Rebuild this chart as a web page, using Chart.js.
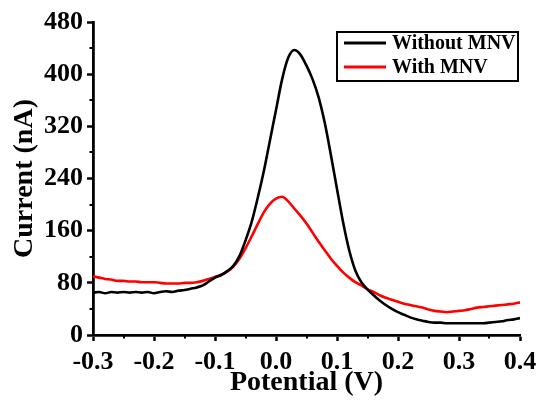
<!DOCTYPE html>
<html>
<head>
<meta charset="utf-8">
<script src="https://cdn.jsdelivr.net/npm/chart.js@4.4.1/dist/chart.umd.min.js"></script>
<style>
html,body{margin:0;padding:0;background:#fff;}
#wrap{width:536px;height:400px;}
</style>
</head>
<body>
<div id="wrap"><canvas id="c" width="536" height="400"></canvas></div>
<script>
const potential = [-0.30,-0.29,-0.28,-0.27,-0.26,-0.25,-0.24,-0.23,-0.22,-0.21,-0.20,-0.19,-0.18,-0.17,-0.16,-0.15,-0.14,-0.13,-0.12,-0.11,-0.10,-0.09,-0.08,-0.07,-0.06,-0.05,-0.04,-0.03,-0.02,-0.01,0.00,0.01,0.02,0.03,0.04,0.05,0.06,0.07,0.08,0.09,0.10,0.11,0.12,0.13,0.14,0.15,0.16,0.17,0.18,0.19,0.20,0.21,0.22,0.23,0.24,0.25,0.26,0.27,0.28,0.29,0.30,0.31,0.32,0.33,0.34,0.35,0.36,0.37,0.38,0.39,0.40];
const withoutMNV = [65,66,64,66,65,66,65,66,65,66,64,66,67,66,68,69,71,73,76,82,88,92,98,106,121,145,173,210,251,298,345,392,425,437,430,413,392,364,325,276,224,173,130,99,81,70,61,53,46,40,35,31,27,24,22,20,19,19,18,18,18,18,18,18,18,19,20,21,23,24,26];
const withMNV = [90,88,86,85,83,83,82,82,81,81,81,80,79,79,79,80,80,81,83,86,89,92,97,105,117,133,151,170,188,201,209,212,205,194,183,171,157,143,130,117,106,96,88,81,76,70,66,61,57,54,51,48,46,44,42,39,37,36,35,36,37,38,40,42,43,44,45,46,47,48,50];
const seriesNames = ['Without MNV','With MNV'];
const seriesColors = ['#000000','#ff0000'];
const xTitle = 'Potential (V)';
const yTitle = 'Current (nA)';

const FONT = "'Liberation Serif','Times New Roman',serif";

const minorTicks = {
  id:'minorTicks',
  afterDraw(chart){
    const ctx = chart.ctx;
    ctx.save();
    ctx.strokeStyle = '#000';
    ctx.lineWidth = 2;
    const xs = chart.scales.x, ys = chart.scales.y;
    const xt = xs.ticks.map(t=>t.value);
    for(let i=0;i<xt.length-1;i++){
      const p = Math.round(xs.getPixelForValue((xt[i]+xt[i+1])/2));
      ctx.beginPath(); ctx.moveTo(p, xs.top); ctx.lineTo(p, xs.top+3.5); ctx.stroke();
    }
    const yt = ys.ticks.map(t=>t.value);
    for(let i=0;i<yt.length-1;i++){
      const p = Math.round(ys.getPixelForValue((yt[i]+yt[i+1])/2));
      ctx.beginPath(); ctx.moveTo(ys.right, p); ctx.lineTo(ys.right-3.5, p); ctx.stroke();
    }
    ctx.restore();
  }
};

const boxLegend = {
  id:'boxLegend',
  afterDraw(chart){
    const ctx = chart.ctx;
    const ca = chart.chartArea;
    const x0 = ca.right - 183, y0 = ca.top + 10, w = 181, h = 49;
    ctx.save();
    ctx.strokeStyle = '#000';
    ctx.lineWidth = 2;
    ctx.strokeRect(x0, y0, w, h);
    ctx.font = "bold 20px " + FONT;
    ctx.textBaseline = 'middle';
    chart.data.datasets.forEach((ds,i)=>{
      const cy = y0 + 11 + i*24;
      ctx.strokeStyle = ds.borderColor;
      ctx.lineWidth = 3;
      ctx.beginPath(); ctx.moveTo(x0+7, cy); ctx.lineTo(x0+49, cy); ctx.stroke();
      ctx.fillStyle = '#000';
      ctx.fillText(ds.label, x0+55, cy+1);
    });
    ctx.restore();
  }
};

const mk = (ys) => potential.map((x,i)=>({x:x, y:ys[i]}));

new Chart(document.getElementById('c'), {
  type:'line',
  data:{
    datasets:[
      {label:seriesNames[0], data:mk(withoutMNV), borderColor:seriesColors[0], borderWidth:2.6, pointRadius:0, cubicInterpolationMode:'monotone', fill:false},
      {label:seriesNames[1], data:mk(withMNV), borderColor:seriesColors[1], borderWidth:2.6, pointRadius:0, cubicInterpolationMode:'monotone', fill:false}
    ]
  },
  options:{
    responsive:false,
    animation:false,
    devicePixelRatio:1,
    layout:{padding:{top:22, right:16, left:0, bottom:0}},
    plugins:{legend:{display:false}, tooltip:{enabled:false}},
    scales:{
      x:{
        type:'linear', min:-0.3, max:0.4,
        ticks:{stepSize:0.1, color:'#000', font:{family:FONT, size:26, weight:'bold'}, padding:6,
          maxRotation:0, autoSkip:false,
          callback:(v)=> Math.abs(v)<1e-9 ? '0.0' : Number(v).toFixed(1)},
        grid:{drawOnChartArea:false, drawTicks:true, tickLength:6, tickWidth:2.5, tickColor:'#000'},
        border:{display:true, color:'#000', width:2.8},
        title:{display:true, text:xTitle, color:'#000', font:{family:FONT, size:28, weight:'bold'}, padding:{top:0,bottom:0}},
        afterFit:(s)=>{ s.height = 65; s.paddingLeft = 0; s.paddingRight = 0; }
      },
      y:{
        type:'linear', min:0, max:480,
        ticks:{stepSize:80, color:'#000', font:{family:FONT, size:26, weight:'bold'}, padding:4},
        grid:{drawOnChartArea:false, drawTicks:true, tickLength:6, tickWidth:2.5, tickColor:'#000'},
        border:{display:true, color:'#000', width:2.8},
        title:{display:true, text:yTitle, color:'#000', font:{family:FONT, size:28, weight:'bold'}, padding:{top:8,bottom:0}},
        afterFit:(s)=>{ s.width = 93; s.paddingTop = 0; s.paddingBottom = 0; }
      }
    }
  },
  plugins:[minorTicks, boxLegend]
});
</script>
</body>
</html>
